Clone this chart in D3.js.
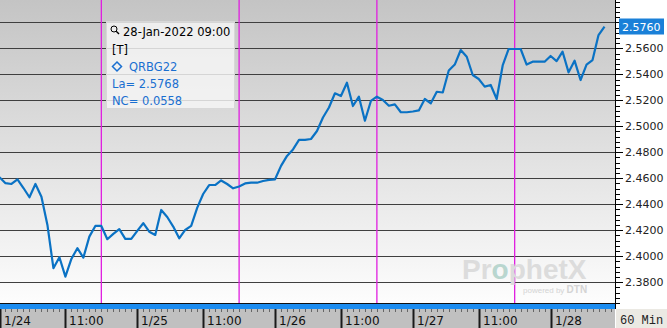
<!DOCTYPE html>
<html lang="en">
  <head>
    <meta charset="utf-8" />
    <title>QRBG22 60 Min</title>
    <script type="text/javascript" src="https://d3js.org/d3.v7.min.js"></script>
    <style>
      body { margin: 0; background: #fff; }
      svg { display: block; }
      .ylab { font-family: "DejaVu Sans", sans-serif; font-size: 11px; fill: #222; }
      .xlab { font-family: "DejaVu Sans", sans-serif; font-size: 12px; fill: #111; }
      .tip { font-family: "DejaVu Sans", sans-serif; font-size: 11.5px; }
    </style>
  </head>
  <body>
    <script>
      // hourly closes, 1/24 00:00 .. 1/28 09:00 (23 bars per session day)
      let values = [
        2.4608, 2.4562, 2.4556, 2.4592, 2.4525, 2.4454, 2.4556, 2.4458, 2.4241, 2.3908,
        2.3992, 2.3843, 2.3979, 2.4062, 2.3989, 2.4151, 2.4233, 2.4233, 2.4131, 2.4172,
        2.4208, 2.4133, 2.4133, 2.4195, 2.4254, 2.4189, 2.4164, 2.4356, 2.4302, 2.4228,
        2.4138, 2.4202, 2.4233, 2.4372, 2.4479, 2.4548, 2.4548, 2.4583, 2.4556, 2.4523,
        2.4537, 2.4560, 2.4566, 2.4566, 2.4579, 2.4588, 2.4592, 2.4695, 2.4772, 2.4822,
        2.4895, 2.4895, 2.4902, 2.4964, 2.5068, 2.5145, 2.5254, 2.5233, 2.5335, 2.5156,
        2.5228, 2.5043, 2.5195, 2.5228, 2.5202, 2.5158, 2.5169, 2.5108, 2.5108, 2.5114,
        2.5122, 2.5210, 2.5177, 2.5266, 2.5260, 2.5429, 2.5475, 2.5587, 2.5535, 2.5395,
        2.5364, 2.5305, 2.5318, 2.5210, 2.5468, 2.5595, 2.5595, 2.5595, 2.5475, 2.5497,
        2.5497, 2.5497, 2.5541, 2.5502, 2.5574, 2.5415, 2.5505, 2.5356, 2.5475, 2.5510,
        2.5702, 2.5768
      ];
      let dayLabels = ["1/24", "1/25", "1/26", "1/27", "1/28"];
      let hourLabel = "11:00";
      let barsPerDay = 23;
      let hourMark = 11;
      let sessionMark = 17;
      let yTicks = [2.38, 2.40, 2.42, 2.44, 2.46, 2.48, 2.50, 2.52, 2.54, 2.56, 2.58];
      let lastLabel = "2.5760";
      let tipLines = ["28-Jan-2022 09:00", "[T]", "QRBG22", "La= 2.5768", "NC= 0.0558"];
      let period = "60 Min";

      let w = 667;
      let h = 328;
      let plotW = 615;
      let plotH = 303;

      let svg = d3.select("body").append("svg").attr("width", w).attr("height", h);

      let x = d3.scaleLinear().domain([0, 102.7]).range([-0.5, 614.7]);
      let y = d3.scaleLinear().domain([2.364, 2.5972]).range([plotH, 0]);

      let defs = svg.append("defs");
      let grad = defs.append("linearGradient").attr("id", "bg")
        .attr("x1", 0).attr("y1", 0).attr("x2", 0).attr("y2", 1);
      grad.append("stop").attr("offset", "0%").attr("stop-color", "#c4c4c4");
      grad.append("stop").attr("offset", "100%").attr("stop-color", "#fdfdfd");
      defs.append("clipPath").attr("id", "clip")
        .append("rect").attr("width", plotW).attr("height", plotH);

      svg.append("rect").attr("width", w).attr("height", h).attr("fill", "#fff");
      svg.append("rect").attr("width", plotW).attr("height", plotH).attr("fill", "url(#bg)");

      // horizontal grid
      svg.append("g").selectAll("line").data(yTicks).join("line")
        .attr("x1", 0).attr("x2", plotW)
        .attr("y1", (d) => Math.round(y(d)) + 0.5).attr("y2", (d) => Math.round(y(d)) + 0.5)
        .attr("stroke", "#3f3f3f").attr("stroke-width", 1.2);

      // session markers
      svg.append("g").selectAll("line").data(dayLabels.slice(0, 4)).join("line")
        .attr("x1", (d, i) => x(i * barsPerDay + sessionMark))
        .attr("x2", (d, i) => x(i * barsPerDay + sessionMark))
        .attr("y1", 0).attr("y2", plotH)
        .attr("stroke", "#e01ee0").attr("stroke-width", 1.3);

      // watermark
      let wm = svg.append("g").attr("font-family", "'Liberation Sans', sans-serif").attr("font-weight", "bold");
      let wt = wm.append("text").attr("x", 462).attr("y", 279).attr("font-size", 28).attr("fill", "#dcdcdc");
      wt.append("tspan").text("Pr");
      wt.append("tspan").attr("fill", "#b9d6cf").text("o");
      wt.append("tspan").text("phetX");
      let wt2 = wm.append("text").attr("x", 523).attr("y", 293).attr("fill", "#d4d4d4");
      wt2.append("tspan").attr("font-size", 8).attr("font-weight", "normal").text("powered by ");
      wt2.append("tspan").attr("font-size", 10).text("DTN");

      // price line
      let line = d3.line().x((d, i) => x(i)).y((d) => y(d));
      svg.append("path").attr("clip-path", "url(#clip)")
        .attr("d", line(values)).attr("fill", "none")
        .attr("stroke", "#0a72c4").attr("stroke-width", 2.2).attr("stroke-linejoin", "round");

      // bottom blue bar
      svg.append("rect").attr("x", 0).attr("y", 303).attr("width", plotW).attr("height", 6).attr("fill", "#1b8cf0");
      svg.append("line").attr("x1", 0).attr("x2", plotW).attr("y1", 303.5).attr("y2", 303.5).attr("stroke", "#111");

      // x axis strip
      svg.append("rect").attr("x", 0).attr("y", 309).attr("width", plotW).attr("height", 19).attr("fill", "#c0c0c0");
      svg.append("g").selectAll("line").data(d3.range(0, 103)).join("line")
        .attr("x1", (d) => Math.round(x(d)) + 0.5).attr("x2", (d) => Math.round(x(d)) + 0.5)
        .attr("y1", 309).attr("y2", 312).attr("stroke", "#666");

      let xMarks = [];
      dayLabels.forEach((d, i) => {
        xMarks.push({ pos: i * barsPerDay, text: d });
        if (i < 4) xMarks.push({ pos: i * barsPerDay + hourMark, text: hourLabel });
      });
      let xm = svg.append("g").selectAll("g").data(xMarks).join("g")
        .attr("transform", (d) => `translate(${Math.round(x(d.pos))},0)`);
      xm.append("line").attr("x1", 0.5).attr("x2", 0.5).attr("y1", 309).attr("y2", 328)
        .attr("stroke", "#1a1a1a").attr("stroke-width", 2);
      xm.append("text").attr("class", "xlab").attr("x", 4).attr("y", 325).text((d) => d.text);

      // right axis
      let ax = svg.append("g");
      ax.append("line").attr("x1", 615.5).attr("x2", 615.5).attr("y1", 0).attr("y2", 309)
        .attr("stroke", "#000");
      let minor = d3.range(2.364, 2.5972, 0.004);
      ax.selectAll(".mn").data(minor).join("line").attr("class", "mn")
        .attr("x1", 616).attr("x2", 620)
        .attr("y1", (d) => Math.round(y(d)) + 0.5).attr("y2", (d) => Math.round(y(d)) + 0.5)
        .attr("stroke", "#000");
      ax.selectAll(".mj").data(yTicks).join("line").attr("class", "mj")
        .attr("x1", 616).attr("x2", 623)
        .attr("y1", (d) => Math.round(y(d)) + 0.5).attr("y2", (d) => Math.round(y(d)) + 0.5)
        .attr("stroke", "#000");
      ax.selectAll("text").data(yTicks.filter((d) => d < 2.57)).join("text").attr("class", "ylab")
        .attr("x", 625).attr("y", (d) => y(d) + 4).text((d) => d3.format(".4f")(d));

      // last price flag
      let lastY = y(values[values.length - 1]);
      svg.append("rect").attr("x", 619).attr("y", lastY - 8).attr("width", 45).attr("height", 16)
        .attr("fill", "#1a80d8");
      svg.append("text").attr("class", "ylab").attr("x", 622).attr("y", lastY + 4)
        .attr("fill", "#fff").style("fill", "#fff").text(lastLabel);

      // period box
      svg.append("rect").attr("x", 616).attr("y", 309).attr("width", 51).attr("height", 19).attr("fill", "#ebe9e3");
      svg.append("text").attr("x", 620).attr("y", 324).attr("font-family", "'Liberation Mono', monospace")
        .attr("font-size", 12).attr("fill", "#222").text(period);

      // info box
      let tip = svg.append("g").attr("class", "tip");
      tip.append("rect").attr("x", 106.5).attr("y", 21.5).attr("width", 128).attr("height", 87)
        .attr("fill", "rgba(246,246,246,0.82)").attr("stroke", "#d8d8d8");
      // magnifier glyph
      tip.append("circle").attr("cx", 114).attr("cy", 29).attr("r", 3).attr("fill", "none").attr("stroke", "#000");
      tip.append("line").attr("x1", 116.2).attr("y1", 31.2).attr("x2", 119).attr("y2", 34).attr("stroke", "#000").attr("stroke-width", 1.4);
      tip.append("text").attr("x", 123).attr("y", 36).attr("fill", "#000").text(tipLines[0]);
      tip.append("text").attr("x", 112).attr("y", 54).attr("fill", "#000").text(tipLines[1]);
      tip.append("path").attr("d", "M117,62 L121.5,66.5 L117,71 L112.5,66.5 Z")
        .attr("fill", "none").attr("stroke", "#1a6fd0").attr("stroke-width", 1.5);
      tip.append("text").attr("x", 129).attr("y", 71).attr("fill", "#1a6fd0").text(tipLines[2]);
      tip.append("text").attr("x", 112).attr("y", 88).attr("fill", "#1a6fd0").text(tipLines[3]);
      tip.append("text").attr("x", 112).attr("y", 105).attr("fill", "#1a6fd0").text(tipLines[4]);
    </script>
  </body>
</html>
